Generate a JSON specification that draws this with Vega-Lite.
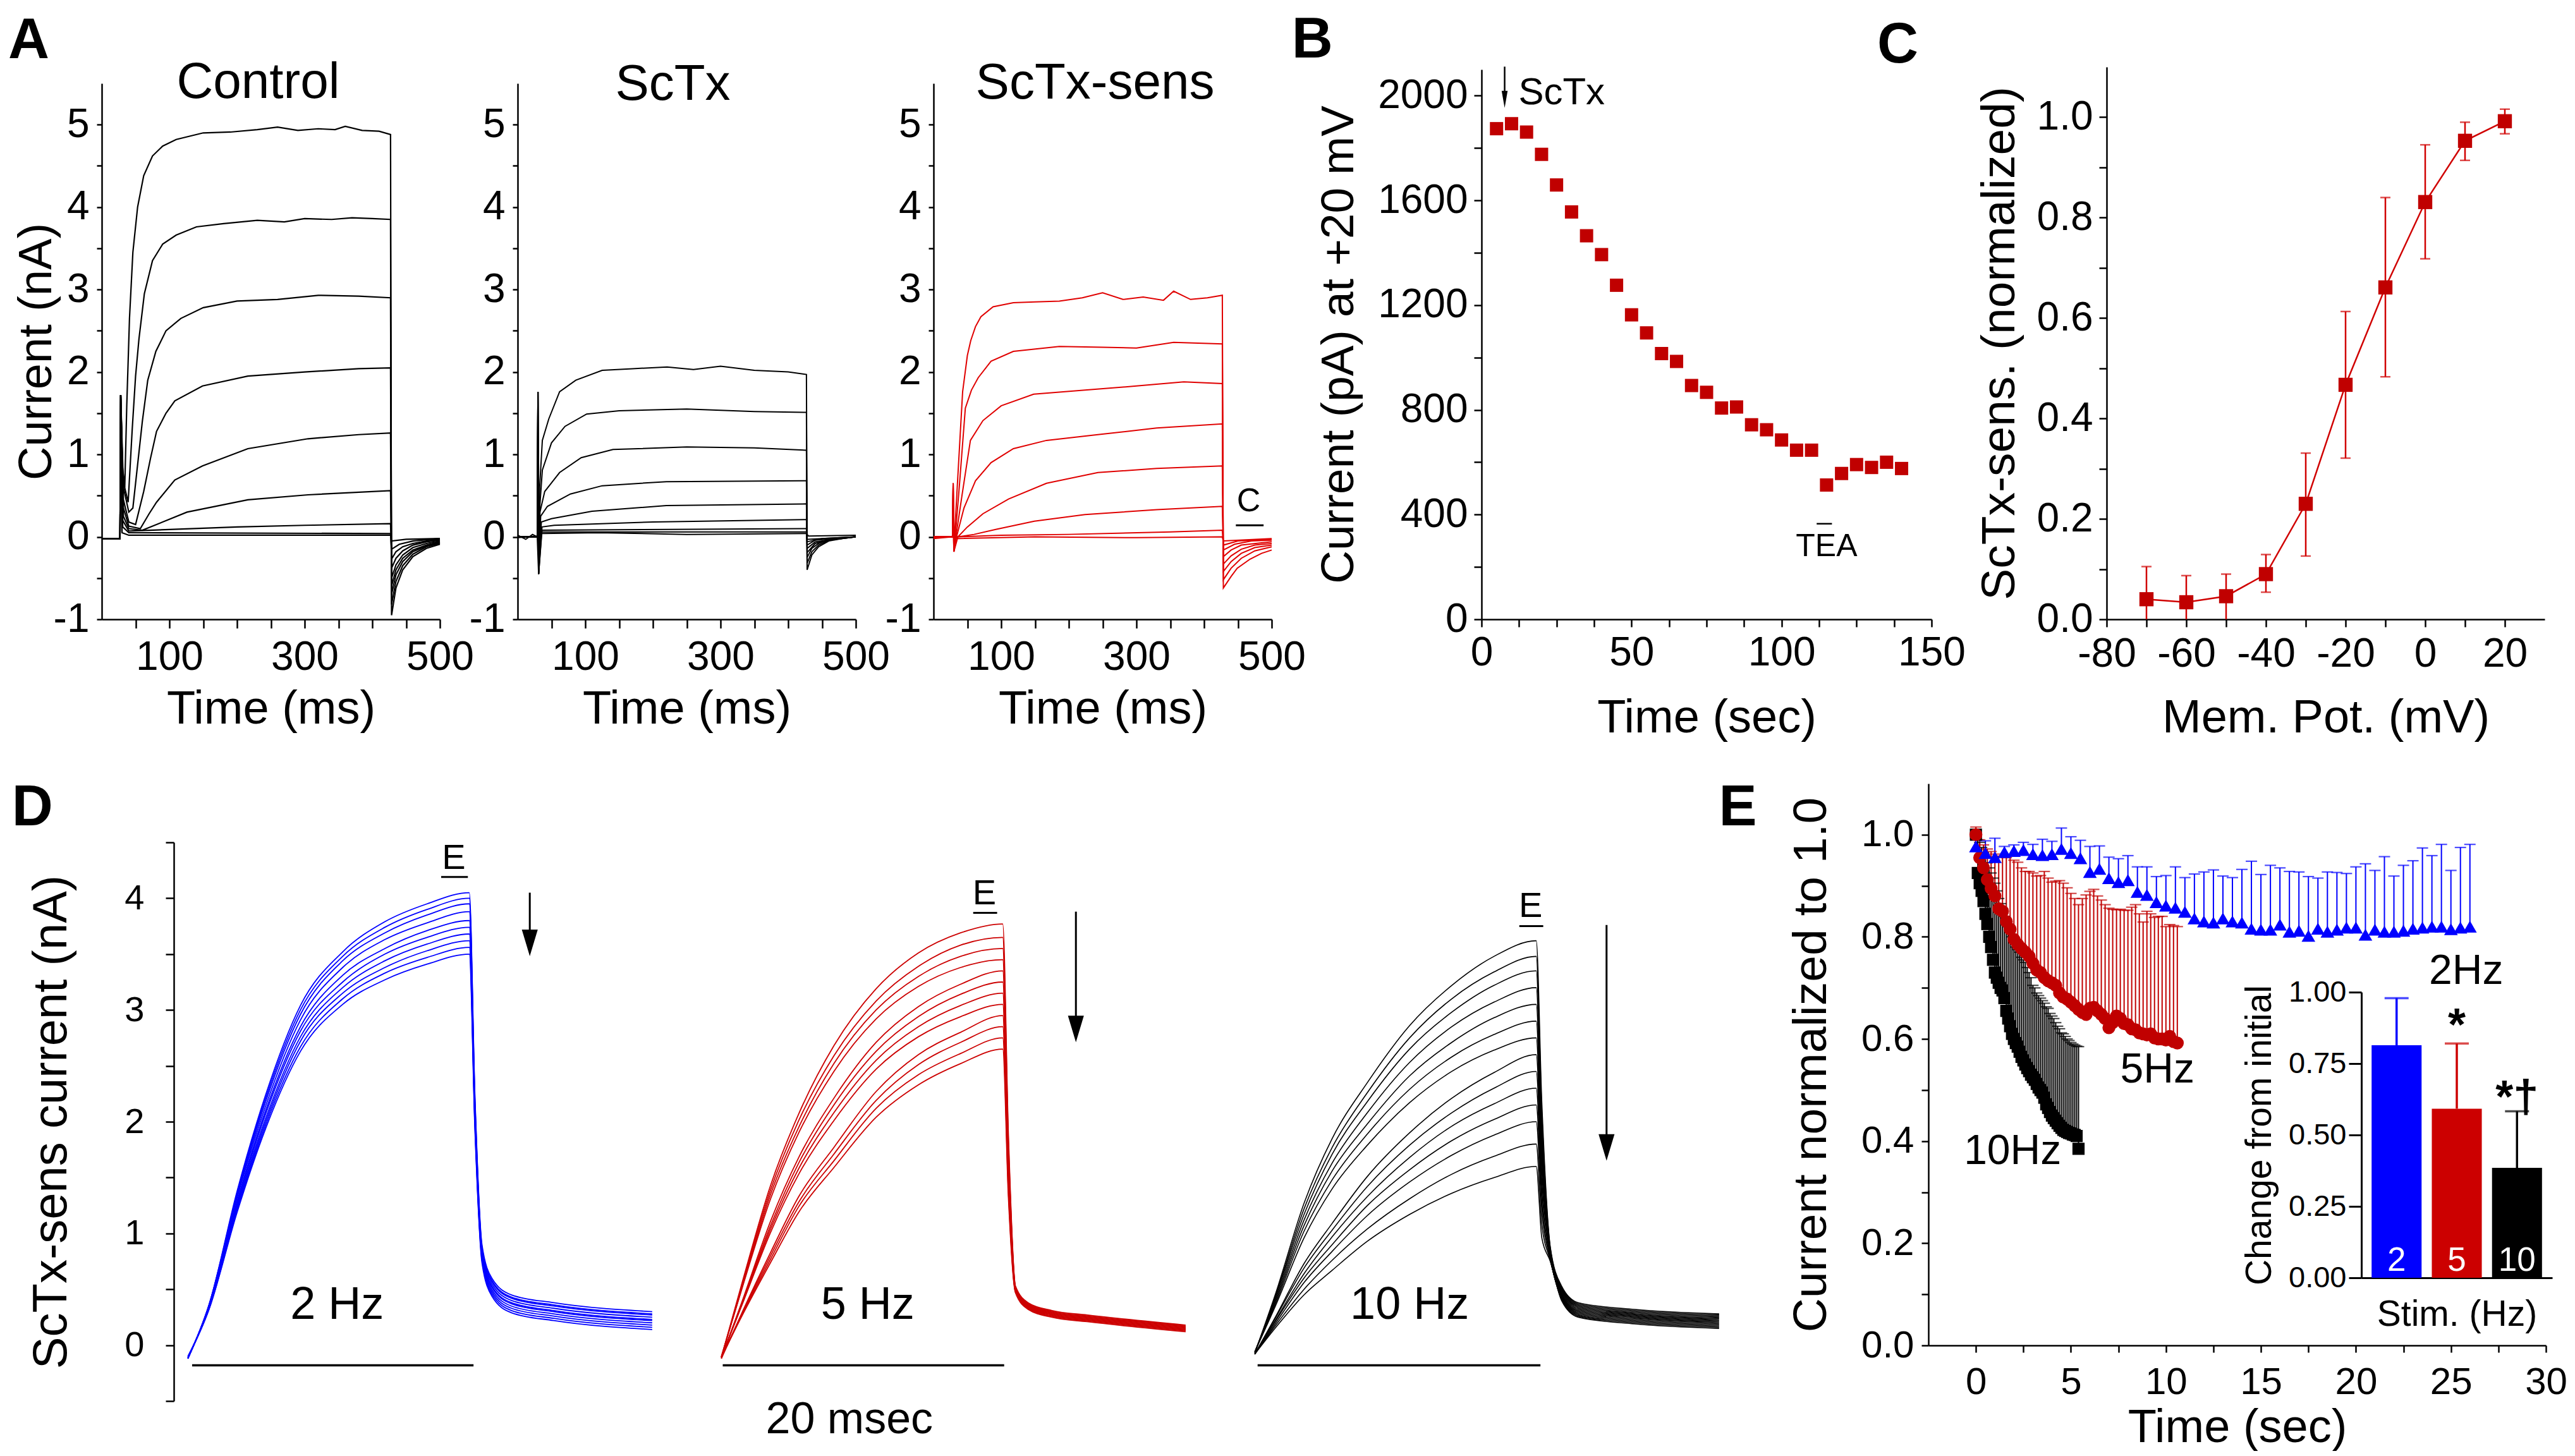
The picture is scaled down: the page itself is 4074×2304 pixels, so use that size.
{
"$schema": "https://vega.github.io/schema/vega-lite/v6.json",
"background": "white",
"padding": {"left": 12, "top": 7, "right": 0, "bottom": 0},
"config": {
  "font": "Liberation Sans",
  "view": {"stroke": null},
  "axis": {"grid": false, "domainColor": "#000", "tickColor": "#000", "labelColor": "#000", "titleColor": "#000", "domainWidth": 2.5, "tickWidth": 2.5, "titleFontWeight": "normal", "labelOverlap": false, "labelFlush": false, "labelFont": "Liberation Sans", "titleFont": "Liberation Sans"},
  "title": {"anchor": "start", "frame": "bounds", "fontSize": 90, "fontWeight": "bold", "baseline": "alphabetic", "color": "#000", "font": "Liberation Sans"},
  "text": {"font": "Liberation Sans", "color": "#000"}
},
"datasets": {
"ac": [
{"k":1,"t":0,"i":-0.02},{"k":1,"t":27,"i":-0.02},{"k":1,"t":28,"i":1.72},{"k":1,"t":30,"i":0.9},{"k":1,"t":34,"i":0.6},{"k":1,"t":37,"i":1.6},{"k":1,"t":41,"i":2.65},{"k":1,"t":46,"i":3.45},{"k":1,"t":53,"i":4.0},{"k":1,"t":62,"i":4.38},{"k":1,"t":75,"i":4.62},{"k":1,"t":90,"i":4.74},{"k":1,"t":110,"i":4.82},{"k":1,"t":150,"i":4.9},{"k":1,"t":190,"i":4.91},{"k":1,"t":230,"i":4.94},{"k":1,"t":260,"i":4.97},{"k":1,"t":290,"i":4.93},{"k":1,"t":320,"i":4.95},{"k":1,"t":345,"i":4.94},{"k":1,"t":360,"i":4.98},{"k":1,"t":385,"i":4.93},{"k":1,"t":410,"i":4.92},{"k":1,"t":427,"i":4.88},{"k":1,"t":428.5,"i":-0.95},{"k":1,"t":435,"i":-0.62},{"k":1,"t":445,"i":-0.4},{"k":1,"t":460,"i":-0.24},{"k":1,"t":480,"i":-0.14},{"k":1,"t":500,"i":-0.09},
{"k":2,"t":0,"i":-0.02},{"k":2,"t":27,"i":-0.02},{"k":2,"t":28,"i":1.72},{"k":2,"t":31,"i":0.7},{"k":2,"t":39,"i":0.42},{"k":2,"t":45,"i":1.3},{"k":2,"t":50,"i":1.95},{"k":2,"t":55,"i":2.4},{"k":2,"t":63,"i":2.95},{"k":2,"t":75,"i":3.35},{"k":2,"t":90,"i":3.55},{"k":2,"t":110,"i":3.66},{"k":2,"t":140,"i":3.76},{"k":2,"t":180,"i":3.8},{"k":2,"t":230,"i":3.84},{"k":2,"t":270,"i":3.82},{"k":2,"t":300,"i":3.86},{"k":2,"t":340,"i":3.85},{"k":2,"t":370,"i":3.87},{"k":2,"t":400,"i":3.86},{"k":2,"t":427,"i":3.85},{"k":2,"t":428.5,"i":-0.82},{"k":2,"t":435,"i":-0.54},{"k":2,"t":445,"i":-0.35},{"k":2,"t":460,"i":-0.21},{"k":2,"t":480,"i":-0.12},{"k":2,"t":500,"i":-0.08},
{"k":3,"t":0,"i":-0.02},{"k":3,"t":27,"i":-0.02},{"k":3,"t":28,"i":1.72},{"k":3,"t":32,"i":0.6},{"k":3,"t":40,"i":0.3},{"k":3,"t":46,"i":0.35},{"k":3,"t":52,"i":0.8},{"k":3,"t":60,"i":1.4},{"k":3,"t":68,"i":1.9},{"k":3,"t":80,"i":2.25},{"k":3,"t":95,"i":2.5},{"k":3,"t":117,"i":2.65},{"k":3,"t":150,"i":2.78},{"k":3,"t":200,"i":2.86},{"k":3,"t":260,"i":2.88},{"k":3,"t":320,"i":2.93},{"k":3,"t":380,"i":2.92},{"k":3,"t":427,"i":2.9},{"k":3,"t":428.5,"i":-0.7},{"k":3,"t":435,"i":-0.46},{"k":3,"t":445,"i":-0.3},{"k":3,"t":460,"i":-0.18},{"k":3,"t":480,"i":-0.11},{"k":3,"t":500,"i":-0.07},
{"k":4,"t":0,"i":-0.02},{"k":4,"t":27,"i":-0.02},{"k":4,"t":28,"i":1.72},{"k":4,"t":32,"i":0.45},{"k":4,"t":40,"i":0.18},{"k":4,"t":50,"i":0.15},{"k":4,"t":62,"i":0.55},{"k":4,"t":72,"i":0.95},{"k":4,"t":81,"i":1.28},{"k":4,"t":95,"i":1.5},{"k":4,"t":108,"i":1.65},{"k":4,"t":149,"i":1.83},{"k":4,"t":216,"i":1.95},{"k":4,"t":300,"i":2.0},{"k":4,"t":380,"i":2.04},{"k":4,"t":427,"i":2.05},{"k":4,"t":428.5,"i":-0.6},{"k":4,"t":435,"i":-0.4},{"k":4,"t":445,"i":-0.26},{"k":4,"t":460,"i":-0.16},{"k":4,"t":480,"i":-0.1},{"k":4,"t":500,"i":-0.06},
{"k":5,"t":0,"i":-0.02},{"k":5,"t":27,"i":-0.02},{"k":5,"t":28,"i":1.72},{"k":5,"t":32,"i":0.35},{"k":5,"t":40,"i":0.13},{"k":5,"t":57,"i":0.1},{"k":5,"t":70,"i":0.28},{"k":5,"t":81,"i":0.42},{"k":5,"t":108,"i":0.69},{"k":5,"t":149,"i":0.86},{"k":5,"t":216,"i":1.07},{"k":5,"t":305,"i":1.19},{"k":5,"t":380,"i":1.24},{"k":5,"t":427,"i":1.26},{"k":5,"t":428.5,"i":-0.5},{"k":5,"t":435,"i":-0.34},{"k":5,"t":445,"i":-0.22},{"k":5,"t":460,"i":-0.13},{"k":5,"t":480,"i":-0.08},{"k":5,"t":500,"i":-0.05},
{"k":6,"t":0,"i":-0.02},{"k":6,"t":27,"i":-0.02},{"k":6,"t":28,"i":1.72},{"k":6,"t":32,"i":0.25},{"k":6,"t":40,"i":0.1},{"k":6,"t":60,"i":0.08},{"k":6,"t":126,"i":0.3},{"k":6,"t":216,"i":0.45},{"k":6,"t":305,"i":0.51},{"k":6,"t":427,"i":0.56},{"k":6,"t":428.5,"i":-0.38},{"k":6,"t":435,"i":-0.26},{"k":6,"t":445,"i":-0.17},{"k":6,"t":460,"i":-0.1},{"k":6,"t":480,"i":-0.06},{"k":6,"t":500,"i":-0.04},
{"k":7,"t":0,"i":-0.02},{"k":7,"t":27,"i":-0.02},{"k":7,"t":28,"i":1.72},{"k":7,"t":31,"i":0.2},{"k":7,"t":40,"i":0.07},{"k":7,"t":100,"i":0.09},{"k":7,"t":200,"i":0.12},{"k":7,"t":300,"i":0.14},{"k":7,"t":427,"i":0.16},{"k":7,"t":428.5,"i":-0.27},{"k":7,"t":435,"i":-0.18},{"k":7,"t":445,"i":-0.12},{"k":7,"t":460,"i":-0.08},{"k":7,"t":480,"i":-0.05},{"k":7,"t":500,"i":-0.03},
{"k":8,"t":0,"i":-0.02},{"k":8,"t":27,"i":-0.02},{"k":8,"t":28,"i":1.72},{"k":8,"t":31,"i":0.12},{"k":8,"t":40,"i":0.05},{"k":8,"t":427,"i":0.04},{"k":8,"t":428.5,"i":-0.15},{"k":8,"t":440,"i":-0.09},{"k":8,"t":460,"i":-0.05},{"k":8,"t":500,"i":-0.02},
{"k":9,"t":0,"i":-0.02},{"k":9,"t":27,"i":-0.02},{"k":9,"t":28,"i":1.72},{"k":9,"t":30,"i":0.05},{"k":9,"t":40,"i":0.02},{"k":9,"t":427,"i":0.02},{"k":9,"t":428.5,"i":-0.05},{"k":9,"t":450,"i":-0.03},{"k":9,"t":500,"i":-0.02}
],
"as": [
{"k":1,"t":0,"i":0},{"k":1,"t":29,"i":0},{"k":1,"t":30,"i":1.76},{"k":1,"t":31,"i":-0.45},{"k":1,"t":32.5,"i":0.6},{"k":1,"t":36.5,"i":1.17},{"k":1,"t":46,"i":1.43},{"k":1,"t":62,"i":1.76},{"k":1,"t":86,"i":1.9},{"k":1,"t":125,"i":2.02},{"k":1,"t":170,"i":2.04},{"k":1,"t":221,"i":2.06},{"k":1,"t":260,"i":2.03},{"k":1,"t":300,"i":2.07},{"k":1,"t":350,"i":2.02},{"k":1,"t":400,"i":2.0},{"k":1,"t":427,"i":1.97},{"k":1,"t":428,"i":-0.4},{"k":1,"t":435,"i":-0.22},{"k":1,"t":445,"i":-0.12},{"k":1,"t":460,"i":-0.05},{"k":1,"t":480,"i":-0.02},{"k":1,"t":500,"i":0},
{"k":2,"t":0,"i":0},{"k":2,"t":29,"i":0},{"k":2,"t":30,"i":1.76},{"k":2,"t":31,"i":-0.45},{"k":2,"t":33,"i":0.4},{"k":2,"t":36.5,"i":0.81},{"k":2,"t":50,"i":1.14},{"k":2,"t":70,"i":1.34},{"k":2,"t":102,"i":1.49},{"k":2,"t":150,"i":1.53},{"k":2,"t":250,"i":1.55},{"k":2,"t":350,"i":1.52},{"k":2,"t":427,"i":1.51},{"k":2,"t":428,"i":-0.32},{"k":2,"t":435,"i":-0.18},{"k":2,"t":445,"i":-0.1},{"k":2,"t":460,"i":-0.04},{"k":2,"t":500,"i":0},
{"k":3,"t":0,"i":0},{"k":3,"t":29,"i":0},{"k":3,"t":30,"i":1.76},{"k":3,"t":31,"i":-0.45},{"k":3,"t":33,"i":0.3},{"k":3,"t":40,"i":0.55},{"k":3,"t":62,"i":0.78},{"k":3,"t":94,"i":0.96},{"k":3,"t":141,"i":1.06},{"k":3,"t":250,"i":1.09},{"k":3,"t":350,"i":1.08},{"k":3,"t":427,"i":1.05},{"k":3,"t":428,"i":-0.25},{"k":3,"t":435,"i":-0.14},{"k":3,"t":445,"i":-0.08},{"k":3,"t":460,"i":-0.03},{"k":3,"t":500,"i":0},
{"k":4,"t":0,"i":0},{"k":4,"t":29,"i":0},{"k":4,"t":30,"i":1.76},{"k":4,"t":31,"i":-0.45},{"k":4,"t":34,"i":0.25},{"k":4,"t":44,"i":0.37},{"k":4,"t":78,"i":0.52},{"k":4,"t":125,"i":0.62},{"k":4,"t":220,"i":0.67},{"k":4,"t":427,"i":0.68},{"k":4,"t":428,"i":-0.19},{"k":4,"t":440,"i":-0.08},{"k":4,"t":460,"i":-0.03},{"k":4,"t":500,"i":0},
{"k":5,"t":0,"i":0},{"k":5,"t":29,"i":0},{"k":5,"t":30,"i":1.76},{"k":5,"t":31,"i":-0.45},{"k":5,"t":35,"i":0.18},{"k":5,"t":50,"i":0.22},{"k":5,"t":110,"i":0.31},{"k":5,"t":220,"i":0.38},{"k":5,"t":427,"i":0.4},{"k":5,"t":428,"i":-0.14},{"k":5,"t":440,"i":-0.06},{"k":5,"t":500,"i":0},
{"k":6,"t":0,"i":0},{"k":6,"t":29,"i":0},{"k":6,"t":30,"i":1.76},{"k":6,"t":31,"i":-0.45},{"k":6,"t":36,"i":0.12},{"k":6,"t":54,"i":0.14},{"k":6,"t":200,"i":0.18},{"k":6,"t":427,"i":0.21},{"k":6,"t":428,"i":-0.1},{"k":6,"t":440,"i":-0.04},{"k":6,"t":500,"i":0},
{"k":7,"t":0,"i":0},{"k":7,"t":29,"i":0},{"k":7,"t":31,"i":-0.45},{"k":7,"t":36,"i":0.08},{"k":7,"t":427,"i":0.1},{"k":7,"t":428,"i":-0.06},{"k":7,"t":450,"i":-0.02},{"k":7,"t":500,"i":0},
{"k":8,"t":0,"i":0.02},{"k":8,"t":12,"i":-0.03},{"k":8,"t":22,"i":0.03},{"k":8,"t":29,"i":0},{"k":8,"t":36,"i":0.06},{"k":8,"t":427,"i":0.06},{"k":8,"t":428,"i":-0.03},{"k":8,"t":500,"i":0},
{"k":9,"t":0,"i":-0.01},{"k":9,"t":29,"i":0.01},{"k":9,"t":36,"i":0.04},{"k":9,"t":120,"i":0.05},{"k":9,"t":250,"i":0.03},{"k":9,"t":427,"i":0.04},{"k":9,"t":430,"i":0.01},{"k":9,"t":500,"i":0.02}
],
"ar": [
{"k":1,"t":0,"i":0},{"k":1,"t":28,"i":0},{"k":1,"t":29,"i":0.65},{"k":1,"t":30,"i":-0.18},{"k":1,"t":31,"i":0},{"k":1,"t":35,"i":0.6},{"k":1,"t":43,"i":1.76},{"k":1,"t":50,"i":2.2},{"k":1,"t":55,"i":2.38},{"k":1,"t":62,"i":2.55},{"k":1,"t":70,"i":2.67},{"k":1,"t":88,"i":2.79},{"k":1,"t":118,"i":2.84},{"k":1,"t":150,"i":2.85},{"k":1,"t":186,"i":2.86},{"k":1,"t":220,"i":2.9},{"k":1,"t":250,"i":2.96},{"k":1,"t":280,"i":2.88},{"k":1,"t":310,"i":2.91},{"k":1,"t":340,"i":2.87},{"k":1,"t":355,"i":2.98},{"k":1,"t":380,"i":2.88},{"k":1,"t":405,"i":2.9},{"k":1,"t":427,"i":2.93},{"k":1,"t":428.5,"i":-0.62},{"k":1,"t":440,"i":-0.48},{"k":1,"t":449,"i":-0.38},{"k":1,"t":468,"i":-0.27},{"k":1,"t":485,"i":-0.2},{"k":1,"t":500,"i":-0.16},
{"k":2,"t":0,"i":0},{"k":2,"t":28,"i":0},{"k":2,"t":29,"i":0.65},{"k":2,"t":30,"i":-0.18},{"k":2,"t":32,"i":0},{"k":2,"t":38,"i":0.6},{"k":2,"t":47,"i":1.56},{"k":2,"t":56,"i":1.78},{"k":2,"t":66,"i":1.93},{"k":2,"t":85,"i":2.13},{"k":2,"t":118,"i":2.25},{"k":2,"t":186,"i":2.31},{"k":2,"t":250,"i":2.3},{"k":2,"t":300,"i":2.29},{"k":2,"t":355,"i":2.36},{"k":2,"t":427,"i":2.34},{"k":2,"t":428.5,"i":-0.52},{"k":2,"t":440,"i":-0.38},{"k":2,"t":455,"i":-0.26},{"k":2,"t":475,"i":-0.17},{"k":2,"t":500,"i":-0.12},
{"k":3,"t":0,"i":0},{"k":3,"t":28,"i":0},{"k":3,"t":29,"i":0.65},{"k":3,"t":30,"i":-0.18},{"k":3,"t":33,"i":0},{"k":3,"t":42,"i":0.5},{"k":3,"t":54.5,"i":1.17},{"k":3,"t":73,"i":1.41},{"k":3,"t":100,"i":1.59},{"k":3,"t":148,"i":1.73},{"k":3,"t":224,"i":1.78},{"k":3,"t":300,"i":1.83},{"k":3,"t":370,"i":1.88},{"k":3,"t":427,"i":1.86},{"k":3,"t":428.5,"i":-0.42},{"k":3,"t":440,"i":-0.3},{"k":3,"t":455,"i":-0.2},{"k":3,"t":475,"i":-0.13},{"k":3,"t":500,"i":-0.1},
{"k":4,"t":0,"i":0},{"k":4,"t":28,"i":0},{"k":4,"t":29,"i":0.65},{"k":4,"t":30,"i":-0.18},{"k":4,"t":34,"i":0},{"k":4,"t":45,"i":0.35},{"k":4,"t":62,"i":0.68},{"k":4,"t":85,"i":0.9},{"k":4,"t":118,"i":1.07},{"k":4,"t":167,"i":1.17},{"k":4,"t":243,"i":1.24},{"k":4,"t":330,"i":1.32},{"k":4,"t":427,"i":1.37},{"k":4,"t":428.5,"i":-0.33},{"k":4,"t":440,"i":-0.23},{"k":4,"t":455,"i":-0.15},{"k":4,"t":475,"i":-0.1},{"k":4,"t":500,"i":-0.08},
{"k":5,"t":0,"i":0},{"k":5,"t":28,"i":0},{"k":5,"t":29,"i":0.65},{"k":5,"t":30,"i":-0.18},{"k":5,"t":36,"i":0},{"k":5,"t":50,"i":0.12},{"k":5,"t":73,"i":0.28},{"k":5,"t":111,"i":0.46},{"k":5,"t":167,"i":0.65},{"k":5,"t":243,"i":0.78},{"k":5,"t":330,"i":0.83},{"k":5,"t":427,"i":0.86},{"k":5,"t":428.5,"i":-0.24},{"k":5,"t":440,"i":-0.16},{"k":5,"t":455,"i":-0.1},{"k":5,"t":500,"i":-0.06},
{"k":6,"t":0,"i":0},{"k":6,"t":28,"i":0},{"k":6,"t":36,"i":0},{"k":6,"t":60,"i":0.03},{"k":6,"t":92,"i":0.09},{"k":6,"t":149,"i":0.19},{"k":6,"t":224,"i":0.27},{"k":6,"t":330,"i":0.33},{"k":6,"t":427,"i":0.37},{"k":6,"t":428.5,"i":-0.16},{"k":6,"t":445,"i":-0.09},{"k":6,"t":470,"i":-0.05},{"k":6,"t":500,"i":-0.04},
{"k":7,"t":0,"i":0},{"k":7,"t":28,"i":0},{"k":7,"t":36,"i":0},{"k":7,"t":100,"i":0.02},{"k":7,"t":200,"i":0.03},{"k":7,"t":350,"i":0.06},{"k":7,"t":427,"i":0.08},{"k":7,"t":428.5,"i":-0.1},{"k":7,"t":450,"i":-0.05},{"k":7,"t":500,"i":-0.03},
{"k":8,"t":0,"i":-0.02},{"k":8,"t":28,"i":0},{"k":8,"t":36,"i":-0.02},{"k":8,"t":150,"i":0},{"k":8,"t":300,"i":-0.01},{"k":8,"t":427,"i":0},{"k":8,"t":428.5,"i":-0.05},{"k":8,"t":500,"i":-0.02}
],
"bd": [
{"t":5,"i":1874},{"t":10,"i":1893},{"t":15,"i":1861},{"t":20,"i":1776},{"t":25,"i":1659},{"t":30,"i":1556},{"t":35,"i":1465},{"t":40,"i":1393},{"t":45,"i":1276},{"t":50,"i":1163},{"t":55,"i":1094},{"t":60,"i":1015},{"t":65,"i":985},{"t":70,"i":893},{"t":75,"i":867},{"t":80,"i":807},{"t":85,"i":811},{"t":90,"i":743},{"t":95,"i":724},{"t":100,"i":685},{"t":105,"i":646},{"t":110,"i":646},{"t":115,"i":513},{"t":120,"i":557},{"t":125,"i":591},{"t":130,"i":580},{"t":135,"i":600},{"t":140,"i":576}
],
"cd": [
{"v":-70,"m":0.04,"lo":0,"hi":0.105},{"v":-60,"m":0.034,"lo":0,"hi":0.087},{"v":-50,"m":0.046,"lo":0,"hi":0.09},{"v":-40,"m":0.09,"lo":0.054,"hi":0.129},{"v":-30,"m":0.23,"lo":0.126,"hi":0.331},{"v":-20,"m":0.467,"lo":0.321,"hi":0.613},{"v":-10,"m":0.661,"lo":0.483,"hi":0.84},{"v":0,"m":0.831,"lo":0.718,"hi":0.945},{"v":10,"m":0.953,"lo":0.914,"hi":0.99},{"v":20,"m":0.992,"lo":0.967,"hi":1.016}
],
"d2": [
{"k":1,"t":0,"i":-0.12},{"k":1,"t":1.5,"i":0.36},{"k":1,"t":3.5,"i":1.38},{"k":1,"t":5.5,"i":2.23},{"k":1,"t":8,"i":3.04},{"k":1,"t":11,"i":3.52},{"k":1,"t":14,"i":3.79},{"k":1,"t":17,"i":3.95},{"k":1,"t":20,"i":4.05},{"k":1,"t":20.4,"i":2.23},{"k":1,"t":20.9,"i":0.9},{"k":1,"t":21.6,"i":0.6},{"k":1,"t":23,"i":0.45},{"k":1,"t":26,"i":0.38},{"k":1,"t":33,"i":0.3},
{"k":2,"t":0,"i":-0.12},{"k":2,"t":1.5,"i":0.36},{"k":2,"t":3.5,"i":1.36},{"k":2,"t":5.5,"i":2.2},{"k":2,"t":8,"i":3.0},{"k":2,"t":11,"i":3.48},{"k":2,"t":14,"i":3.74},{"k":2,"t":17,"i":3.9},{"k":2,"t":20,"i":4.0},{"k":2,"t":20.4,"i":2.2},{"k":2,"t":20.9,"i":0.88},{"k":2,"t":21.6,"i":0.58},{"k":2,"t":23,"i":0.43},{"k":2,"t":26,"i":0.36},{"k":2,"t":33,"i":0.28},
{"k":3,"t":0,"i":-0.12},{"k":3,"t":1.5,"i":0.36},{"k":3,"t":3.5,"i":1.34},{"k":3,"t":5.5,"i":2.17},{"k":3,"t":8,"i":2.96},{"k":3,"t":11,"i":3.44},{"k":3,"t":14,"i":3.69},{"k":3,"t":17,"i":3.85},{"k":3,"t":20,"i":3.95},{"k":3,"t":20.4,"i":2.17},{"k":3,"t":20.9,"i":0.87},{"k":3,"t":21.6,"i":0.57},{"k":3,"t":23,"i":0.42},{"k":3,"t":26,"i":0.35},{"k":3,"t":33,"i":0.27},
{"k":4,"t":0,"i":-0.12},{"k":4,"t":1.5,"i":0.35},{"k":4,"t":3.5,"i":1.32},{"k":4,"t":5.5,"i":2.13},{"k":4,"t":8,"i":2.91},{"k":4,"t":11,"i":3.38},{"k":4,"t":14,"i":3.63},{"k":4,"t":17,"i":3.78},{"k":4,"t":20,"i":3.88},{"k":4,"t":20.4,"i":2.13},{"k":4,"t":20.9,"i":0.85},{"k":4,"t":21.6,"i":0.55},{"k":4,"t":23,"i":0.4},{"k":4,"t":26,"i":0.33},{"k":4,"t":33,"i":0.25},
{"k":5,"t":0,"i":-0.11},{"k":5,"t":1.5,"i":0.34},{"k":5,"t":3.5,"i":1.29},{"k":5,"t":5.5,"i":2.09},{"k":5,"t":8,"i":2.85},{"k":5,"t":11,"i":3.31},{"k":5,"t":14,"i":3.55},{"k":5,"t":17,"i":3.71},{"k":5,"t":20,"i":3.8},{"k":5,"t":20.4,"i":2.09},{"k":5,"t":20.9,"i":0.83},{"k":5,"t":21.6,"i":0.53},{"k":5,"t":23,"i":0.38},{"k":5,"t":26,"i":0.31},{"k":5,"t":33,"i":0.23},
{"k":6,"t":0,"i":-0.11},{"k":6,"t":1.5,"i":0.34},{"k":6,"t":3.5,"i":1.27},{"k":6,"t":5.5,"i":2.06},{"k":6,"t":8,"i":2.81},{"k":6,"t":11,"i":3.25},{"k":6,"t":14,"i":3.5},{"k":6,"t":17,"i":3.65},{"k":6,"t":20,"i":3.74},{"k":6,"t":20.4,"i":2.06},{"k":6,"t":20.9,"i":0.82},{"k":6,"t":21.6,"i":0.52},{"k":6,"t":23,"i":0.37},{"k":6,"t":26,"i":0.3},{"k":6,"t":33,"i":0.22},
{"k":7,"t":0,"i":-0.11},{"k":7,"t":1.5,"i":0.33},{"k":7,"t":3.5,"i":1.25},{"k":7,"t":5.5,"i":2.02},{"k":7,"t":8,"i":2.76},{"k":7,"t":11,"i":3.2},{"k":7,"t":14,"i":3.44},{"k":7,"t":17,"i":3.59},{"k":7,"t":20,"i":3.68},{"k":7,"t":20.4,"i":2.02},{"k":7,"t":20.9,"i":0.8},{"k":7,"t":21.6,"i":0.5},{"k":7,"t":23,"i":0.35},{"k":7,"t":26,"i":0.28},{"k":7,"t":33,"i":0.2},
{"k":8,"t":0,"i":-0.11},{"k":8,"t":1.5,"i":0.33},{"k":8,"t":3.5,"i":1.23},{"k":8,"t":5.5,"i":1.99},{"k":8,"t":8,"i":2.72},{"k":8,"t":11,"i":3.15},{"k":8,"t":14,"i":3.38},{"k":8,"t":17,"i":3.53},{"k":8,"t":20,"i":3.62},{"k":8,"t":20.4,"i":1.99},{"k":8,"t":20.9,"i":0.78},{"k":8,"t":21.6,"i":0.48},{"k":8,"t":23,"i":0.33},{"k":8,"t":26,"i":0.26},{"k":8,"t":33,"i":0.18},
{"k":9,"t":0,"i":-0.11},{"k":9,"t":1.5,"i":0.32},{"k":9,"t":3.5,"i":1.21},{"k":9,"t":5.5,"i":1.96},{"k":9,"t":8,"i":2.67},{"k":9,"t":11,"i":3.1},{"k":9,"t":14,"i":3.33},{"k":9,"t":17,"i":3.47},{"k":9,"t":20,"i":3.56},{"k":9,"t":20.4,"i":1.96},{"k":9,"t":20.9,"i":0.76},{"k":9,"t":21.6,"i":0.46},{"k":9,"t":23,"i":0.31},{"k":9,"t":26,"i":0.24},{"k":9,"t":33,"i":0.16},
{"k":10,"t":0,"i":-0.1},{"k":10,"t":1.5,"i":0.32},{"k":10,"t":3.5,"i":1.19},{"k":10,"t":5.5,"i":1.93},{"k":10,"t":8,"i":2.63},{"k":10,"t":11,"i":3.05},{"k":10,"t":14,"i":3.27},{"k":10,"t":17,"i":3.41},{"k":10,"t":20,"i":3.5},{"k":10,"t":20.4,"i":1.93},{"k":10,"t":20.9,"i":0.74},{"k":10,"t":21.6,"i":0.44},{"k":10,"t":23,"i":0.29},{"k":10,"t":26,"i":0.22},{"k":10,"t":33,"i":0.14}
],
"d5": [
{"k":1,"t":0,"i":-0.11},{"k":1,"t":1.5,"i":0.57},{"k":1,"t":3.5,"i":1.43},{"k":1,"t":5.5,"i":2.07},{"k":1,"t":8,"i":2.68},{"k":1,"t":11,"i":3.19},{"k":1,"t":14,"i":3.51},{"k":1,"t":17,"i":3.69},{"k":1,"t":20,"i":3.77},{"k":1,"t":20.4,"i":1.89},{"k":1,"t":20.9,"i":0.53},{"k":1,"t":21.8,"i":0.38},{"k":1,"t":23.5,"i":0.31},{"k":1,"t":26,"i":0.27},{"k":1,"t":33,"i":0.18},
{"k":2,"t":0,"i":-0.11},{"k":2,"t":1.5,"i":0.55},{"k":2,"t":3.5,"i":1.39},{"k":2,"t":5.5,"i":2.01},{"k":2,"t":8,"i":2.59},{"k":2,"t":11,"i":3.08},{"k":2,"t":14,"i":3.39},{"k":2,"t":17,"i":3.58},{"k":2,"t":20,"i":3.65},{"k":2,"t":20.4,"i":1.83},{"k":2,"t":20.9,"i":0.52},{"k":2,"t":21.8,"i":0.37},{"k":2,"t":23.5,"i":0.3},{"k":2,"t":26,"i":0.26},{"k":2,"t":33,"i":0.17},
{"k":3,"t":0,"i":-0.11},{"k":3,"t":1.5,"i":0.53},{"k":3,"t":3.5,"i":1.35},{"k":3,"t":5.5,"i":1.95},{"k":3,"t":8,"i":2.52},{"k":3,"t":11,"i":3.0},{"k":3,"t":14,"i":3.3},{"k":3,"t":17,"i":3.48},{"k":3,"t":20,"i":3.55},{"k":3,"t":20.4,"i":1.78},{"k":3,"t":20.9,"i":0.52},{"k":3,"t":21.8,"i":0.37},{"k":3,"t":23.5,"i":0.3},{"k":3,"t":26,"i":0.26},{"k":3,"t":33,"i":0.17},
{"k":4,"t":0,"i":-0.1},{"k":4,"t":1.5,"i":0.52},{"k":4,"t":3.5,"i":1.31},{"k":4,"t":5.5,"i":1.9},{"k":4,"t":8,"i":2.45},{"k":4,"t":11,"i":2.92},{"k":4,"t":14,"i":3.21},{"k":4,"t":17,"i":3.38},{"k":4,"t":20,"i":3.45},{"k":4,"t":20.4,"i":1.73},{"k":4,"t":20.9,"i":0.51},{"k":4,"t":21.8,"i":0.36},{"k":4,"t":23.5,"i":0.29},{"k":4,"t":26,"i":0.25},{"k":4,"t":33,"i":0.16},
{"k":5,"t":0,"i":-0.12},{"k":5,"t":1.5,"i":0.4},{"k":5,"t":3.5,"i":1.11},{"k":5,"t":5.5,"i":1.68},{"k":5,"t":8,"i":2.21},{"k":5,"t":11,"i":2.71},{"k":5,"t":14,"i":3.03},{"k":5,"t":17,"i":3.23},{"k":5,"t":20,"i":3.35},{"k":5,"t":20.4,"i":1.68},{"k":5,"t":20.9,"i":0.51},{"k":5,"t":21.8,"i":0.36},{"k":5,"t":23.5,"i":0.29},{"k":5,"t":26,"i":0.25},{"k":5,"t":33,"i":0.16},
{"k":6,"t":0,"i":-0.11},{"k":6,"t":1.5,"i":0.39},{"k":6,"t":3.5,"i":1.07},{"k":6,"t":5.5,"i":1.63},{"k":6,"t":8,"i":2.15},{"k":6,"t":11,"i":2.63},{"k":6,"t":14,"i":2.94},{"k":6,"t":17,"i":3.14},{"k":6,"t":20,"i":3.25},{"k":6,"t":20.4,"i":1.63},{"k":6,"t":20.9,"i":0.5},{"k":6,"t":21.8,"i":0.35},{"k":6,"t":23.5,"i":0.28},{"k":6,"t":26,"i":0.24},{"k":6,"t":33,"i":0.15},
{"k":7,"t":0,"i":-0.11},{"k":7,"t":1.5,"i":0.38},{"k":7,"t":3.5,"i":1.04},{"k":7,"t":5.5,"i":1.58},{"k":7,"t":8,"i":2.08},{"k":7,"t":11,"i":2.55},{"k":7,"t":14,"i":2.85},{"k":7,"t":17,"i":3.04},{"k":7,"t":20,"i":3.15},{"k":7,"t":20.4,"i":1.58},{"k":7,"t":20.9,"i":0.5},{"k":7,"t":21.8,"i":0.35},{"k":7,"t":23.5,"i":0.28},{"k":7,"t":26,"i":0.24},{"k":7,"t":33,"i":0.15},
{"k":8,"t":0,"i":-0.11},{"k":8,"t":1.5,"i":0.37},{"k":8,"t":3.5,"i":1.01},{"k":8,"t":5.5,"i":1.53},{"k":8,"t":8,"i":2.01},{"k":8,"t":11,"i":2.47},{"k":8,"t":14,"i":2.76},{"k":8,"t":17,"i":2.94},{"k":8,"t":20,"i":3.05},{"k":8,"t":20.4,"i":1.53},{"k":8,"t":20.9,"i":0.49},{"k":8,"t":21.8,"i":0.34},{"k":8,"t":23.5,"i":0.27},{"k":8,"t":26,"i":0.23},{"k":8,"t":33,"i":0.14},
{"k":9,"t":0,"i":-0.12},{"k":9,"t":1.5,"i":0.3},{"k":9,"t":3.5,"i":0.83},{"k":9,"t":5.5,"i":1.33},{"k":9,"t":8,"i":1.77},{"k":9,"t":11,"i":2.27},{"k":9,"t":14,"i":2.6},{"k":9,"t":17,"i":2.8},{"k":9,"t":20,"i":2.95},{"k":9,"t":20.4,"i":1.48},{"k":9,"t":20.9,"i":0.49},{"k":9,"t":21.8,"i":0.34},{"k":9,"t":23.5,"i":0.27},{"k":9,"t":26,"i":0.23},{"k":9,"t":33,"i":0.14},
{"k":10,"t":0,"i":-0.11},{"k":10,"t":1.5,"i":0.29},{"k":10,"t":3.5,"i":0.8},{"k":10,"t":5.5,"i":1.28},{"k":10,"t":8,"i":1.71},{"k":10,"t":11,"i":2.19},{"k":10,"t":14,"i":2.51},{"k":10,"t":17,"i":2.71},{"k":10,"t":20,"i":2.85},{"k":10,"t":20.4,"i":1.43},{"k":10,"t":20.9,"i":0.48},{"k":10,"t":21.8,"i":0.33},{"k":10,"t":23.5,"i":0.26},{"k":10,"t":26,"i":0.22},{"k":10,"t":33,"i":0.13},
{"k":11,"t":0,"i":-0.11},{"k":11,"t":1.5,"i":0.28},{"k":11,"t":3.5,"i":0.77},{"k":11,"t":5.5,"i":1.24},{"k":11,"t":8,"i":1.65},{"k":11,"t":11,"i":2.12},{"k":11,"t":14,"i":2.42},{"k":11,"t":17,"i":2.61},{"k":11,"t":20,"i":2.75},{"k":11,"t":20.4,"i":1.38},{"k":11,"t":20.9,"i":0.48},{"k":11,"t":21.8,"i":0.33},{"k":11,"t":23.5,"i":0.26},{"k":11,"t":26,"i":0.22},{"k":11,"t":33,"i":0.13},
{"k":12,"t":0,"i":-0.11},{"k":12,"t":1.5,"i":0.27},{"k":12,"t":3.5,"i":0.74},{"k":12,"t":5.5,"i":1.19},{"k":12,"t":8,"i":1.59},{"k":12,"t":11,"i":2.04},{"k":12,"t":14,"i":2.33},{"k":12,"t":17,"i":2.52},{"k":12,"t":20,"i":2.65},{"k":12,"t":20.4,"i":1.33},{"k":12,"t":20.9,"i":0.47},{"k":12,"t":21.8,"i":0.32},{"k":12,"t":23.5,"i":0.25},{"k":12,"t":26,"i":0.21},{"k":12,"t":33,"i":0.12}
],
"d10": [
{"k":1,"t":0,"i":-0.07},{"k":1,"t":1.5,"i":0.47},{"k":1,"t":3.5,"i":1.27},{"k":1,"t":5.5,"i":1.85},{"k":1,"t":8,"i":2.35},{"k":1,"t":11,"i":2.86},{"k":1,"t":14,"i":3.22},{"k":1,"t":17,"i":3.48},{"k":1,"t":20,"i":3.62},{"k":1,"t":20.4,"i":2.17},{"k":1,"t":21,"i":0.88},{"k":1,"t":21.8,"i":0.53},{"k":1,"t":23,"i":0.38},{"k":1,"t":27,"i":0.32},{"k":1,"t":33,"i":0.28},
{"k":2,"t":0,"i":-0.07},{"k":2,"t":1.5,"i":0.45},{"k":2,"t":3.5,"i":1.22},{"k":2,"t":5.5,"i":1.77},{"k":2,"t":8,"i":2.26},{"k":2,"t":11,"i":2.75},{"k":2,"t":14,"i":3.1},{"k":2,"t":17,"i":3.34},{"k":2,"t":20,"i":3.48},{"k":2,"t":20.4,"i":2.09},{"k":2,"t":21,"i":0.87},{"k":2,"t":21.8,"i":0.52},{"k":2,"t":23,"i":0.37},{"k":2,"t":27,"i":0.31},{"k":2,"t":33,"i":0.27},
{"k":3,"t":0,"i":-0.07},{"k":3,"t":1.5,"i":0.44},{"k":3,"t":3.5,"i":1.17},{"k":3,"t":5.5,"i":1.71},{"k":3,"t":8,"i":2.18},{"k":3,"t":11,"i":2.65},{"k":3,"t":14,"i":2.98},{"k":3,"t":17,"i":3.22},{"k":3,"t":20,"i":3.35},{"k":3,"t":20.4,"i":2.01},{"k":3,"t":21,"i":0.86},{"k":3,"t":21.8,"i":0.51},{"k":3,"t":23,"i":0.36},{"k":3,"t":27,"i":0.3},{"k":3,"t":33,"i":0.26},
{"k":4,"t":0,"i":-0.06},{"k":4,"t":1.5,"i":0.42},{"k":4,"t":3.5,"i":1.12},{"k":4,"t":5.5,"i":1.63},{"k":4,"t":8,"i":2.08},{"k":4,"t":11,"i":2.53},{"k":4,"t":14,"i":2.85},{"k":4,"t":17,"i":3.07},{"k":4,"t":20,"i":3.2},{"k":4,"t":20.4,"i":1.92},{"k":4,"t":21,"i":0.85},{"k":4,"t":21.8,"i":0.5},{"k":4,"t":23,"i":0.35},{"k":4,"t":27,"i":0.29},{"k":4,"t":33,"i":0.25},
{"k":5,"t":0,"i":-0.06},{"k":5,"t":1.5,"i":0.4},{"k":5,"t":3.5,"i":1.07},{"k":5,"t":5.5,"i":1.56},{"k":5,"t":8,"i":1.98},{"k":5,"t":11,"i":2.41},{"k":5,"t":14,"i":2.71},{"k":5,"t":17,"i":2.93},{"k":5,"t":20,"i":3.05},{"k":5,"t":20.4,"i":1.83},{"k":5,"t":21,"i":0.84},{"k":5,"t":21.8,"i":0.49},{"k":5,"t":23,"i":0.34},{"k":5,"t":27,"i":0.28},{"k":5,"t":33,"i":0.24},
{"k":6,"t":0,"i":-0.06},{"k":6,"t":1.5,"i":0.38},{"k":6,"t":3.5,"i":1.02},{"k":6,"t":5.5,"i":1.48},{"k":6,"t":8,"i":1.89},{"k":6,"t":11,"i":2.29},{"k":6,"t":14,"i":2.58},{"k":6,"t":17,"i":2.78},{"k":6,"t":20,"i":2.9},{"k":6,"t":20.4,"i":1.74},{"k":6,"t":21,"i":0.83},{"k":6,"t":21.8,"i":0.48},{"k":6,"t":23,"i":0.33},{"k":6,"t":27,"i":0.27},{"k":6,"t":33,"i":0.23},
{"k":7,"t":0,"i":-0.06},{"k":7,"t":1.5,"i":0.36},{"k":7,"t":3.5,"i":0.96},{"k":7,"t":5.5,"i":1.4},{"k":7,"t":8,"i":1.79},{"k":7,"t":11,"i":2.17},{"k":7,"t":14,"i":2.45},{"k":7,"t":17,"i":2.64},{"k":7,"t":20,"i":2.75},{"k":7,"t":20.4,"i":1.65},{"k":7,"t":21,"i":0.82},{"k":7,"t":21.8,"i":0.47},{"k":7,"t":23,"i":0.32},{"k":7,"t":27,"i":0.26},{"k":7,"t":33,"i":0.22},
{"k":8,"t":0,"i":-0.08},{"k":8,"t":1.5,"i":0.26},{"k":8,"t":3.5,"i":0.73},{"k":8,"t":5.5,"i":1.09},{"k":8,"t":8,"i":1.51},{"k":8,"t":11,"i":1.9},{"k":8,"t":14,"i":2.21},{"k":8,"t":17,"i":2.44},{"k":8,"t":20,"i":2.6},{"k":8,"t":20.4,"i":1.56},{"k":8,"t":21,"i":0.81},{"k":8,"t":21.8,"i":0.46},{"k":8,"t":23,"i":0.31},{"k":8,"t":27,"i":0.25},{"k":8,"t":33,"i":0.21},
{"k":9,"t":0,"i":-0.08},{"k":9,"t":1.5,"i":0.25},{"k":9,"t":3.5,"i":0.69},{"k":9,"t":5.5,"i":1.03},{"k":9,"t":8,"i":1.42},{"k":9,"t":11,"i":1.79},{"k":9,"t":14,"i":2.08},{"k":9,"t":17,"i":2.3},{"k":9,"t":20,"i":2.45},{"k":9,"t":20.4,"i":1.47},{"k":9,"t":21,"i":0.8},{"k":9,"t":21.8,"i":0.45},{"k":9,"t":23,"i":0.3},{"k":9,"t":27,"i":0.24},{"k":9,"t":33,"i":0.2},
{"k":10,"t":0,"i":-0.08},{"k":10,"t":1.5,"i":0.23},{"k":10,"t":3.5,"i":0.64},{"k":10,"t":5.5,"i":0.97},{"k":10,"t":8,"i":1.33},{"k":10,"t":11,"i":1.68},{"k":10,"t":14,"i":1.96},{"k":10,"t":17,"i":2.16},{"k":10,"t":20,"i":2.3},{"k":10,"t":20.4,"i":1.38},{"k":10,"t":21,"i":0.79},{"k":10,"t":21.8,"i":0.44},{"k":10,"t":23,"i":0.29},{"k":10,"t":27,"i":0.23},{"k":10,"t":33,"i":0.19},
{"k":11,"t":0,"i":-0.08},{"k":11,"t":1.5,"i":0.22},{"k":11,"t":3.5,"i":0.6},{"k":11,"t":5.5,"i":0.9},{"k":11,"t":8,"i":1.25},{"k":11,"t":11,"i":1.57},{"k":11,"t":14,"i":1.83},{"k":11,"t":17,"i":2.02},{"k":11,"t":20,"i":2.15},{"k":11,"t":20.4,"i":1.29},{"k":11,"t":21,"i":0.78},{"k":11,"t":21.8,"i":0.43},{"k":11,"t":23,"i":0.28},{"k":11,"t":27,"i":0.22},{"k":11,"t":33,"i":0.18},
{"k":12,"t":0,"i":-0.08},{"k":12,"t":1.5,"i":0.2},{"k":12,"t":3.5,"i":0.56},{"k":12,"t":5.5,"i":0.84},{"k":12,"t":8,"i":1.16},{"k":12,"t":11,"i":1.46},{"k":12,"t":14,"i":1.7},{"k":12,"t":17,"i":1.88},{"k":12,"t":20,"i":2.0},{"k":12,"t":20.4,"i":1.2},{"k":12,"t":21,"i":0.77},{"k":12,"t":21.8,"i":0.42},{"k":12,"t":23,"i":0.27},{"k":12,"t":27,"i":0.21},{"k":12,"t":33,"i":0.17},
{"k":13,"t":0,"i":-0.08},{"k":13,"t":1.5,"i":0.18},{"k":13,"t":3.5,"i":0.5},{"k":13,"t":5.5,"i":0.76},{"k":13,"t":8,"i":1.04},{"k":13,"t":11,"i":1.31},{"k":13,"t":14,"i":1.53},{"k":13,"t":17,"i":1.69},{"k":13,"t":20,"i":1.8},{"k":13,"t":20.4,"i":1.08},{"k":13,"t":21,"i":0.76},{"k":13,"t":21.8,"i":0.41},{"k":13,"t":23,"i":0.26},{"k":13,"t":27,"i":0.2},{"k":13,"t":33,"i":0.16},
{"k":14,"t":0,"i":-0.08},{"k":14,"t":1.5,"i":0.16},{"k":14,"t":3.5,"i":0.45},{"k":14,"t":5.5,"i":0.67},{"k":14,"t":8,"i":0.93},{"k":14,"t":11,"i":1.17},{"k":14,"t":14,"i":1.36},{"k":14,"t":17,"i":1.5},{"k":14,"t":20,"i":1.6},{"k":14,"t":20.4,"i":0.96},{"k":14,"t":21,"i":0.75},{"k":14,"t":21.8,"i":0.4},{"k":14,"t":23,"i":0.25},{"k":14,"t":27,"i":0.19},{"k":14,"t":33,"i":0.15}
],
"ed": [
{"s":"10Hz","t":0,"m":1.0,"u":1.0},{"s":"10Hz","t":0.1,"m":0.925,"u":0.99},{"s":"10Hz","t":0.2,"m":0.905,"u":0.985},{"s":"10Hz","t":0.3,"m":0.89,"u":0.975},{"s":"10Hz","t":0.4,"m":0.87,"u":0.965},{"s":"10Hz","t":0.5,"m":0.845,"u":0.955},{"s":"10Hz","t":0.6,"m":0.825,"u":0.945},{"s":"10Hz","t":0.7,"m":0.8,"u":0.935},{"s":"10Hz","t":0.8,"m":0.78,"u":0.925},{"s":"10Hz","t":0.9,"m":0.755,"u":0.915},{"s":"10Hz","t":1.0,"m":0.73,"u":0.905},{"s":"10Hz","t":1.1,"m":0.72,"u":0.89},{"s":"10Hz","t":1.2,"m":0.71,"u":0.875},{"s":"10Hz","t":1.3,"m":0.7,"u":0.865},{"s":"10Hz","t":1.4,"m":0.695,"u":0.855},{"s":"10Hz","t":1.5,"m":0.68,"u":0.84},{"s":"10Hz","t":1.6,"m":0.655,"u":0.83},{"s":"10Hz","t":1.7,"m":0.64,"u":0.82},{"s":"10Hz","t":1.8,"m":0.625,"u":0.81},{"s":"10Hz","t":1.9,"m":0.61,"u":0.8},{"s":"10Hz","t":2.0,"m":0.6,"u":0.79},{"s":"10Hz","t":2.1,"m":0.592,"u":0.78},{"s":"10Hz","t":2.2,"m":0.585,"u":0.775},{"s":"10Hz","t":2.3,"m":0.575,"u":0.77},{"s":"10Hz","t":2.4,"m":0.565,"u":0.76},{"s":"10Hz","t":2.5,"m":0.558,"u":0.755},{"s":"10Hz","t":2.6,"m":0.55,"u":0.75},{"s":"10Hz","t":2.7,"m":0.543,"u":0.74},{"s":"10Hz","t":2.8,"m":0.537,"u":0.73},{"s":"10Hz","t":2.9,"m":0.53,"u":0.72},{"s":"10Hz","t":3.0,"m":0.525,"u":0.705},{"s":"10Hz","t":3.1,"m":0.52,"u":0.7},{"s":"10Hz","t":3.2,"m":0.512,"u":0.69},{"s":"10Hz","t":3.3,"m":0.505,"u":0.685},{"s":"10Hz","t":3.4,"m":0.5,"u":0.68},{"s":"10Hz","t":3.5,"m":0.495,"u":0.675},{"s":"10Hz","t":3.6,"m":0.485,"u":0.67},{"s":"10Hz","t":3.7,"m":0.472,"u":0.663},{"s":"10Hz","t":3.8,"m":0.465,"u":0.66},{"s":"10Hz","t":3.9,"m":0.457,"u":0.65},{"s":"10Hz","t":4.0,"m":0.45,"u":0.645},{"s":"10Hz","t":4.1,"m":0.445,"u":0.64},{"s":"10Hz","t":4.2,"m":0.44,"u":0.632},{"s":"10Hz","t":4.3,"m":0.435,"u":0.625},{"s":"10Hz","t":4.4,"m":0.43,"u":0.62},{"s":"10Hz","t":4.5,"m":0.426,"u":0.612},{"s":"10Hz","t":4.6,"m":0.422,"u":0.61},{"s":"10Hz","t":4.7,"m":0.42,"u":0.605},{"s":"10Hz","t":4.8,"m":0.418,"u":0.6},{"s":"10Hz","t":4.9,"m":0.416,"u":0.597},{"s":"10Hz","t":5.0,"m":0.415,"u":0.593},{"s":"10Hz","t":5.1,"m":0.413,"u":0.59},{"s":"10Hz","t":5.2,"m":0.412,"u":0.588},{"s":"10Hz","t":5.3,"m":0.41,"u":0.586},{"s":"10Hz","t":5.4,"m":0.385,"u":0.585},
{"s":"5Hz","t":0,"m":1.0,"u":1.015},{"s":"5Hz","t":0.2,"m":0.955,"u":0.99},{"s":"5Hz","t":0.4,"m":0.935,"u":0.98},{"s":"5Hz","t":0.6,"m":0.912,"u":0.972},{"s":"5Hz","t":0.8,"m":0.895,"u":0.967},{"s":"5Hz","t":1.0,"m":0.88,"u":0.962},{"s":"5Hz","t":1.2,"m":0.855,"u":0.958},{"s":"5Hz","t":1.4,"m":0.85,"u":0.957},{"s":"5Hz","t":1.6,"m":0.83,"u":0.955},{"s":"5Hz","t":1.8,"m":0.815,"u":0.958},{"s":"5Hz","t":2.0,"m":0.795,"u":0.95},{"s":"5Hz","t":2.2,"m":0.785,"u":0.946},{"s":"5Hz","t":2.4,"m":0.777,"u":0.935},{"s":"5Hz","t":2.6,"m":0.77,"u":0.928},{"s":"5Hz","t":2.8,"m":0.762,"u":0.928},{"s":"5Hz","t":3.0,"m":0.748,"u":0.925},{"s":"5Hz","t":3.2,"m":0.735,"u":0.919},{"s":"5Hz","t":3.4,"m":0.73,"u":0.92},{"s":"5Hz","t":3.6,"m":0.72,"u":0.928},{"s":"5Hz","t":3.8,"m":0.714,"u":0.915},{"s":"5Hz","t":4.0,"m":0.71,"u":0.907},{"s":"5Hz","t":4.2,"m":0.705,"u":0.909},{"s":"5Hz","t":4.4,"m":0.69,"u":0.91},{"s":"5Hz","t":4.6,"m":0.682,"u":0.905},{"s":"5Hz","t":4.8,"m":0.678,"u":0.896},{"s":"5Hz","t":5.0,"m":0.672,"u":0.885},{"s":"5Hz","t":5.2,"m":0.665,"u":0.875},{"s":"5Hz","t":5.4,"m":0.658,"u":0.863},{"s":"5Hz","t":5.6,"m":0.652,"u":0.875},{"s":"5Hz","t":5.8,"m":0.648,"u":0.882},{"s":"5Hz","t":6.0,"m":0.66,"u":0.889},{"s":"5Hz","t":6.2,"m":0.662,"u":0.893},{"s":"5Hz","t":6.4,"m":0.655,"u":0.88},{"s":"5Hz","t":6.6,"m":0.648,"u":0.872},{"s":"5Hz","t":6.8,"m":0.64,"u":0.863},{"s":"5Hz","t":7.0,"m":0.622,"u":0.856},{"s":"5Hz","t":7.2,"m":0.632,"u":0.854},{"s":"5Hz","t":7.4,"m":0.645,"u":0.853},{"s":"5Hz","t":7.6,"m":0.64,"u":0.854},{"s":"5Hz","t":7.8,"m":0.63,"u":0.852},{"s":"5Hz","t":8.0,"m":0.628,"u":0.852},{"s":"5Hz","t":8.2,"m":0.62,"u":0.858},{"s":"5Hz","t":8.4,"m":0.618,"u":0.863},{"s":"5Hz","t":8.6,"m":0.612,"u":0.845},{"s":"5Hz","t":8.8,"m":0.61,"u":0.829},{"s":"5Hz","t":9.0,"m":0.608,"u":0.85},{"s":"5Hz","t":9.2,"m":0.61,"u":0.845},{"s":"5Hz","t":9.4,"m":0.602,"u":0.838},{"s":"5Hz","t":9.6,"m":0.6,"u":0.84},{"s":"5Hz","t":9.8,"m":0.6,"u":0.84},{"s":"5Hz","t":10.0,"m":0.598,"u":0.82},{"s":"5Hz","t":10.2,"m":0.605,"u":0.824},{"s":"5Hz","t":10.4,"m":0.595,"u":0.822},{"s":"5Hz","t":10.6,"m":0.592,"u":0.82},
{"s":"2Hz","t":0,"m":0.977,"u":0.999},{"s":"2Hz","t":0.5,"m":0.964,"u":0.988},{"s":"2Hz","t":1.0,"m":0.956,"u":0.993},{"s":"2Hz","t":1.5,"m":0.966,"u":0.977},{"s":"2Hz","t":2.0,"m":0.968,"u":0.98},{"s":"2Hz","t":2.5,"m":0.97,"u":0.985},{"s":"2Hz","t":3.0,"m":0.962,"u":0.981},{"s":"2Hz","t":3.5,"m":0.96,"u":0.991},{"s":"2Hz","t":4.0,"m":0.962,"u":0.987},{"s":"2Hz","t":4.5,"m":0.972,"u":1.013},{"s":"2Hz","t":5.0,"m":0.964,"u":0.996},{"s":"2Hz","t":5.5,"m":0.954,"u":0.989},{"s":"2Hz","t":6.0,"m":0.927,"u":0.977},{"s":"2Hz","t":6.5,"m":0.933,"u":0.978},{"s":"2Hz","t":7.0,"m":0.915,"u":0.956},{"s":"2Hz","t":7.5,"m":0.907,"u":0.953},{"s":"2Hz","t":8.0,"m":0.911,"u":0.959},{"s":"2Hz","t":8.5,"m":0.888,"u":0.937},{"s":"2Hz","t":9.0,"m":0.882,"u":0.937},{"s":"2Hz","t":9.5,"m":0.868,"u":0.918},{"s":"2Hz","t":10.0,"m":0.861,"u":0.92},{"s":"2Hz","t":10.5,"m":0.857,"u":0.937},{"s":"2Hz","t":11.0,"m":0.849,"u":0.916},{"s":"2Hz","t":11.5,"m":0.836,"u":0.923},{"s":"2Hz","t":12.0,"m":0.83,"u":0.927},{"s":"2Hz","t":12.5,"m":0.828,"u":0.931},{"s":"2Hz","t":13.0,"m":0.836,"u":0.919},{"s":"2Hz","t":13.5,"m":0.83,"u":0.916},{"s":"2Hz","t":14.0,"m":0.828,"u":0.932},{"s":"2Hz","t":14.5,"m":0.816,"u":0.948},{"s":"2Hz","t":15.0,"m":0.814,"u":0.922},{"s":"2Hz","t":15.5,"m":0.814,"u":0.94},{"s":"2Hz","t":16.0,"m":0.824,"u":0.935},{"s":"2Hz","t":16.5,"m":0.81,"u":0.928},{"s":"2Hz","t":17.0,"m":0.812,"u":0.927},{"s":"2Hz","t":17.5,"m":0.802,"u":0.918},{"s":"2Hz","t":18.0,"m":0.816,"u":0.915},{"s":"2Hz","t":18.5,"m":0.81,"u":0.927},{"s":"2Hz","t":19.0,"m":0.814,"u":0.926},{"s":"2Hz","t":19.5,"m":0.818,"u":0.924},{"s":"2Hz","t":20.0,"m":0.818,"u":0.937},{"s":"2Hz","t":20.5,"m":0.804,"u":0.943},{"s":"2Hz","t":21.0,"m":0.814,"u":0.93},{"s":"2Hz","t":21.5,"m":0.81,"u":0.957},{"s":"2Hz","t":22.0,"m":0.81,"u":0.919},{"s":"2Hz","t":22.5,"m":0.812,"u":0.94},{"s":"2Hz","t":23.0,"m":0.816,"u":0.949},{"s":"2Hz","t":23.5,"m":0.818,"u":0.974},{"s":"2Hz","t":24.0,"m":0.82,"u":0.959},{"s":"2Hz","t":24.5,"m":0.82,"u":0.981},{"s":"2Hz","t":25.0,"m":0.815,"u":0.93},{"s":"2Hz","t":25.5,"m":0.818,"u":0.975},{"s":"2Hz","t":26.0,"m":0.82,"u":0.981}
],
"bars": [
{"st":"2","v":0.814,"u":0.979,"sig":""},{"st":"5","v":0.592,"u":0.82,"sig":"*"},{"st":"10","v":0.385,"u":0.583,"sig":"*†"}
]
},
"spacing": 61,
"vconcat": [
{"hconcat": [
  {"width": 535, "height": 973,
   "title": {"text": "Control", "anchor": "middle", "frame": "group", "fontSize": 80, "fontWeight": "normal", "offset": -165, "dx": -20},
   "layer": [
    {"data": {"name": "ac"}, "mark": {"type": "line", "strokeWidth": 2.2, "color": "#000"},
     "encoding": {
      "x": {"field": "t", "type": "quantitative", "scale": {"domain": [0, 500], "nice": false}, "axis": {"values": [50,100,150,200,250,300,350,400,450,500], "labelExpr": "datum.value % 200 === 100 ? '' + datum.value : ''", "title": "Time (ms)", "tickSize": 14, "labelFontSize": 64, "titleFontSize": 74, "labelPadding": 14, "titlePadding": 14}},
      "y": {"field": "i", "type": "quantitative", "scale": {"domain": [-1, 5.5], "range": [973, 125], "nice": false}, "axis": {"values": [-1,-0.5,0,0.5,1,1.5,2,2.5,3,3.5,4,4.5,5], "labelExpr": "datum.value % 1 === 0 ? '' + datum.value : ''", "tickSize": 8, "labelFontSize": 64, "labelPadding": 12, "title": "Current (nA)", "titleFontSize": 74, "titlePadding": -12}},
      "detail": {"field": "k", "type": "nominal"}}},
    {"data": {"values": [{}]}, "mark": {"type": "text", "text": "A", "fontSize": 90, "fontWeight": "bold", "baseline": "alphabetic", "align": "center"},
     "encoding": {"x": {"datum": -108}, "y": {"datum": 5.81}}}
   ]},
  {"width": 535, "height": 973,
   "title": {"text": "ScTx", "anchor": "middle", "frame": "group", "fontSize": 80, "fontWeight": "normal", "offset": -168, "dx": -22},
   "data": {"name": "as"},
   "mark": {"type": "line", "strokeWidth": 2, "color": "#000"},
   "encoding": {
      "x": {"field": "t", "type": "quantitative", "scale": {"domain": [0, 500], "nice": false}, "axis": {"values": [50,100,150,200,250,300,350,400,450,500], "labelExpr": "datum.value % 200 === 100 ? '' + datum.value : ''", "title": "Time (ms)", "tickSize": 14, "labelFontSize": 64, "titleFontSize": 74, "labelPadding": 14, "titlePadding": 14}},
      "y": {"field": "i", "type": "quantitative", "scale": {"domain": [-1, 5.5], "range": [973, 125], "nice": false}, "axis": {"values": [-1,-0.5,0,0.5,1,1.5,2,2.5,3,3.5,4,4.5,5], "labelExpr": "datum.value % 1 === 0 ? '' + datum.value : ''", "tickSize": 8, "labelFontSize": 64, "labelPadding": 12, "title": null}},
      "detail": {"field": "k", "type": "nominal"}}},
  {"width": 535, "height": 973,
   "title": {"text": "ScTx-sens", "anchor": "middle", "frame": "group", "fontSize": 80, "fontWeight": "normal", "offset": -166, "dx": -12},
   "layer": [
    {"data": {"name": "ar"}, "mark": {"type": "line", "strokeWidth": 2, "color": "#e00000"},
     "encoding": {
      "x": {"field": "t", "type": "quantitative", "scale": {"domain": [0, 500], "nice": false}, "axis": {"values": [50,100,150,200,250,300,350,400,450,500], "labelExpr": "datum.value % 200 === 100 ? '' + datum.value : ''", "title": "Time (ms)", "tickSize": 14, "labelFontSize": 64, "titleFontSize": 74, "labelPadding": 14, "titlePadding": 14}},
      "y": {"field": "i", "type": "quantitative", "scale": {"domain": [-1, 5.5], "range": [973, 125], "nice": false}, "axis": {"values": [-1,-0.5,0,0.5,1,1.5,2,2.5,3,3.5,4,4.5,5], "labelExpr": "datum.value % 1 === 0 ? '' + datum.value : ''", "tickSize": 8, "labelFontSize": 64, "labelPadding": 12, "title": null}},
      "detail": {"field": "k", "type": "nominal"}}},
    {"data": {"values": [{}]}, "mark": {"type": "text", "text": "C", "fontSize": 52, "baseline": "middle", "align": "center"},
     "encoding": {"x": {"datum": 466}, "y": {"datum": 0.43}}},
    {"data": {"values": [{}]}, "mark": {"type": "rule", "strokeWidth": 3, "color": "#000"},
     "encoding": {"x": {"datum": 447}, "x2": {"datum": 488}, "y": {"datum": 0.14}}}
   ]},
  {"width": 86, "height": 10, "data": {"values": [{}]}, "mark": {"type": "point", "opacity": 0}},
  {"width": 712, "height": 973,
   "title": {"text": "B", "dx": -39, "offset": -103},
   "layer": [
    {"data": {"name": "bd"}, "mark": {"type": "point", "shape": "square", "filled": true, "size": 441, "color": "#c00000", "opacity": 1},
     "encoding": {
      "x": {"field": "t", "type": "quantitative", "scale": {"domain": [0, 150], "nice": false}, "axis": {"values": [0,12.5,25,37.5,50,62.5,75,87.5,100,112.5,125,137.5,150], "labelExpr": "datum.value % 50 === 0 ? '' + datum.value : ''", "title": "Time (sec)", "tickSize": 12, "labelFontSize": 64, "titleFontSize": 74, "labelPadding": 9, "titlePadding": 35}},
      "y": {"field": "i", "type": "quantitative", "scale": {"domain": [0, 2100], "range": [973, 103], "nice": false}, "axis": {"values": [0,200,400,600,800,1000,1200,1400,1600,1800,2000], "labelExpr": "datum.value % 400 === 0 ? '' + datum.value : ''", "tickSize": 12, "labelFontSize": 64, "labelPadding": 10, "title": "Current (pA) at +20 mV", "titleFontSize": 73, "titlePadding": 24}}}},
    {"data": {"values": [{}]}, "mark": {"type": "rule", "strokeWidth": 2.5, "color": "#000"},
     "encoding": {"x": {"datum": 7.7}, "y": {"datum": 2111}, "y2": {"datum": 1986}}},
    {"data": {"values": [{}]}, "mark": {"type": "point", "shape": "M-0.35,-1L0.35,-1L0,1Z", "filled": true, "size": 729, "color": "#000", "opacity": 1},
     "encoding": {"x": {"datum": 7.7}, "y": {"datum": 1986}}},
    {"data": {"values": [{}]}, "mark": {"type": "text", "text": "ScTx", "fontSize": 60, "align": "left", "baseline": "middle"},
     "encoding": {"x": {"datum": 12.3}, "y": {"datum": 2010}}},
    {"data": {"values": [{}]}, "mark": {"type": "text", "text": "TEA", "fontSize": 50, "align": "center", "baseline": "middle"},
     "encoding": {"x": {"datum": 115}, "y": {"datum": 278}}},
    {"data": {"values": [{}]}, "mark": {"type": "rule", "strokeWidth": 2.5, "color": "#000"},
     "encoding": {"x": {"datum": 111.7}, "x2": {"datum": 116.8}, "y": {"datum": 365}}}
   ]},
  {"width": 31, "height": 10, "data": {"values": [{}]}, "mark": {"type": "point", "opacity": 0}},
  {"width": 693, "height": 973,
   "title": {"text": "C", "dx": -156, "offset": -111},
   "data": {"name": "cd"},
   "layer": [
    {"mark": {"type": "rule", "color": "#d00000", "strokeWidth": 2.5},
     "encoding": {
      "x": {"field": "v", "type": "quantitative", "scale": {"domain": [-80, 30], "nice": false}, "axis": {"values": [-80,-70,-60,-50,-40,-30,-20,-10,0,10,20], "labelExpr": "datum.value % 20 === 0 ? '' + datum.value : ''", "title": "Mem. Pot. (mV)", "tickSize": 12, "labelFontSize": 64, "titleFontSize": 74, "labelPadding": 11, "titlePadding": 33}},
      "y": {"field": "lo", "type": "quantitative", "scale": {"domain": [0, 1.1], "range": [973, 99], "nice": false}, "axis": {"values": [0,0.1,0.2,0.3,0.4,0.5,0.6,0.7,0.8,0.9,1.0], "labelExpr": "round(datum.value*10) % 2 === 0 ? format(datum.value, '.1f') : ''", "tickSize": 12, "labelFontSize": 64, "labelPadding": 10, "title": "ScTx-sens. (normalized)", "titleFontSize": 75, "titlePadding": 20}},
      "y2": {"field": "hi"}}},
    {"mark": {"type": "tick", "orient": "horizontal", "color": "#d00000", "size": 16, "thickness": 2.5},
     "encoding": {"x": {"field": "v", "type": "quantitative"}, "y": {"field": "hi", "type": "quantitative"}}},
    {"transform": [{"filter": "datum.lo > 0"}],
     "mark": {"type": "tick", "orient": "horizontal", "color": "#d00000", "size": 16, "thickness": 2.5},
     "encoding": {"x": {"field": "v", "type": "quantitative"}, "y": {"field": "lo", "type": "quantitative"}}},
    {"mark": {"type": "line", "color": "#d00000", "strokeWidth": 2.5},
     "encoding": {"x": {"field": "v", "type": "quantitative"}, "y": {"field": "m", "type": "quantitative"}}},
    {"mark": {"type": "point", "shape": "square", "filled": true, "size": 500, "color": "#c00000", "opacity": 1},
     "encoding": {"x": {"field": "v", "type": "quantitative"}, "y": {"field": "m", "type": "quantitative"}}}
   ]}
 ], "spacing": 123, "bounds": "flush"},
{"hconcat": [
  {"width": 38, "height": 10, "data": {"values": [{}]}, "mark": {"type": "point", "opacity": 0}},
  {"width": 768, "height": 977,
   "title": {"text": "D", "dx": -25, "offset": -85},
   "layer": [
    {"data": {"name": "d2"}, "mark": {"type": "line", "interpolate": "monotone", "color": "#0000ff", "strokeWidth": 1.8},
     "encoding": {
      "x": {"field": "t", "type": "quantitative", "scale": {"domain": [-1, 33.5], "nice": false}, "axis": null},
      "y": {"field": "i", "type": "quantitative", "scale": {"domain": [-0.5, 4.5], "range": [977, 93], "nice": false}, "axis": {"values": [-0.5,0,0.5,1,1.5,2,2.5,3,3.5,4,4.5], "labelExpr": "datum.value % 1 === 0 ? '' + datum.value : ''", "tickSize": 13, "labelPadding": 34, "labelFontSize": 56, "title": "ScTx-sens current (nA)", "titleFontSize": 76, "titlePadding": 76}},
      "detail": {"field": "k", "type": "nominal"}}},
    {"data": {"values": [{}]}, "mark": {"type": "rule", "strokeWidth": 3.5, "color": "#000"},
     "encoding": {"x": {"datum": 0.3}, "x2": {"datum": 20.3}, "y": {"datum": -0.18}}},
    {"data": {"values": [{}]}, "mark": {"type": "text", "text": "2 Hz", "fontSize": 72, "align": "center", "baseline": "middle"},
     "encoding": {"x": {"datum": 10.6}, "y": {"datum": 0.36}}},
    {"data": {"values": [{}]}, "mark": {"type": "text", "text": "E", "fontSize": 56, "align": "center", "baseline": "middle"},
     "encoding": {"x": {"datum": 18.9}, "y": {"datum": 4.36}}},
    {"data": {"values": [{}]}, "mark": {"type": "rule", "strokeWidth": 3, "color": "#000"},
     "encoding": {"x": {"datum": 18.0}, "x2": {"datum": 19.9}, "y": {"datum": 4.19}}},
    {"data": {"values": [{}]}, "mark": {"type": "rule", "strokeWidth": 3, "color": "#000"},
     "encoding": {"x": {"datum": 24.3}, "y": {"datum": 4.05}, "y2": {"datum": 3.6}}},
    {"data": {"values": [{}]}, "mark": {"type": "point", "shape": "M-0.6,-1L0.6,-1L0,1Z", "filled": true, "size": 1764, "color": "#000", "opacity": 1},
     "encoding": {"x": {"datum": 24.3}, "y": {"datum": 3.6}}}
   ]},
  {"width": 768, "height": 977,
   "layer": [
    {"data": {"name": "d5"}, "mark": {"type": "line", "interpolate": "monotone", "color": "#cc0000", "strokeWidth": 1.8},
     "encoding": {
      "x": {"field": "t", "type": "quantitative", "scale": {"domain": [-1, 33.5], "nice": false}, "axis": null},
      "y": {"field": "i", "type": "quantitative", "scale": {"domain": [-0.5, 4.5], "range": [977, 93], "nice": false}, "axis": null},
      "detail": {"field": "k", "type": "nominal"}}},
    {"data": {"values": [{}]}, "mark": {"type": "rule", "strokeWidth": 3.5, "color": "#000"},
     "encoding": {"x": {"datum": 0.1}, "x2": {"datum": 20.1}, "y": {"datum": -0.18}}},
    {"data": {"values": [{}]}, "mark": {"type": "text", "text": "5 Hz", "fontSize": 72, "align": "center", "baseline": "middle"},
     "encoding": {"x": {"datum": 10.4}, "y": {"datum": 0.36}}},
    {"data": {"values": [{}]}, "mark": {"type": "text", "text": "20 msec", "fontSize": 70, "align": "center", "baseline": "middle"},
     "encoding": {"x": {"datum": 9.1}, "y": {"datum": -0.67}}},
    {"data": {"values": [{}]}, "mark": {"type": "text", "text": "E", "fontSize": 56, "align": "center", "baseline": "middle"},
     "encoding": {"x": {"datum": 18.7}, "y": {"datum": 4.04}}},
    {"data": {"values": [{}]}, "mark": {"type": "rule", "strokeWidth": 3, "color": "#000"},
     "encoding": {"x": {"datum": 17.9}, "x2": {"datum": 19.6}, "y": {"datum": 3.87}}},
    {"data": {"values": [{}]}, "mark": {"type": "rule", "strokeWidth": 3, "color": "#000"},
     "encoding": {"x": {"datum": 25.2}, "y": {"datum": 3.88}, "y2": {"datum": 2.83}}},
    {"data": {"values": [{}]}, "mark": {"type": "point", "shape": "M-0.6,-1L0.6,-1L0,1Z", "filled": true, "size": 1764, "color": "#000", "opacity": 1},
     "encoding": {"x": {"datum": 25.2}, "y": {"datum": 2.83}}}
   ]},
  {"width": 768, "height": 977,
   "layer": [
    {"data": {"name": "d10"}, "mark": {"type": "line", "interpolate": "monotone", "color": "#000", "strokeWidth": 1.6},
     "encoding": {
      "x": {"field": "t", "type": "quantitative", "scale": {"domain": [-1, 33.5], "nice": false}, "axis": null},
      "y": {"field": "i", "type": "quantitative", "scale": {"domain": [-0.5, 4.5], "range": [977, 93], "nice": false}, "axis": null},
      "detail": {"field": "k", "type": "nominal"}}},
    {"data": {"values": [{}]}, "mark": {"type": "rule", "strokeWidth": 3.5, "color": "#000"},
     "encoding": {"x": {"datum": 0.2}, "x2": {"datum": 20.3}, "y": {"datum": -0.18}}},
    {"data": {"values": [{}]}, "mark": {"type": "text", "text": "10 Hz", "fontSize": 72, "align": "center", "baseline": "middle"},
     "encoding": {"x": {"datum": 11.0}, "y": {"datum": 0.36}}},
    {"data": {"values": [{}]}, "mark": {"type": "text", "text": "E", "fontSize": 56, "align": "center", "baseline": "middle"},
     "encoding": {"x": {"datum": 19.6}, "y": {"datum": 3.93}}},
    {"data": {"values": [{}]}, "mark": {"type": "rule", "strokeWidth": 3, "color": "#000"},
     "encoding": {"x": {"datum": 18.8}, "x2": {"datum": 20.5}, "y": {"datum": 3.75}}},
    {"data": {"values": [{}]}, "mark": {"type": "rule", "strokeWidth": 3, "color": "#000"},
     "encoding": {"x": {"datum": 25.0}, "y": {"datum": 3.76}, "y2": {"datum": 1.77}}},
    {"data": {"values": [{}]}, "mark": {"type": "point", "shape": "M-0.6,-1L0.6,-1L0,1Z", "filled": true, "size": 1764, "color": "#000", "opacity": 1},
     "encoding": {"x": {"datum": 25.0}, "y": {"datum": 1.77}}}
   ]},
  {"width": 168, "height": 10, "data": {"values": [{}]}, "mark": {"type": "point", "opacity": 0}},
  {"width": 977, "height": 889,
   "title": {"text": "E", "dx": -109, "offset": -85},
   "layer": [
    {"data": {"name": "ed"},
     "layer": [
      {"mark": {"type": "rule", "strokeWidth": 2},
       "encoding": {
        "x": {"field": "t", "type": "quantitative", "scale": {"domain": [-2.5, 30], "nice": false}, "axis": {"values": [0,2.5,5,7.5,10,12.5,15,17.5,20,22.5,25,27.5,30], "labelExpr": "datum.value % 5 === 0 ? '' + datum.value : ''", "tickSize": 11, "labelFontSize": 60, "labelPadding": 18, "title": "Time (sec)", "titleFontSize": 74, "titlePadding": 6}},
        "y": {"field": "m", "type": "quantitative", "scale": {"domain": [0, 1.1], "nice": false}, "axis": {"values": [0,0.1,0.2,0.3,0.4,0.5,0.6,0.7,0.8,0.9,1.0], "labelExpr": "round(datum.value*10) % 2 === 0 ? format(datum.value, '.1f') : ''", "tickSize": 11, "labelFontSize": 60, "labelPadding": 12, "title": "Current normalized to 1.0", "titleFontSize": 75, "titlePadding": 40}},
        "y2": {"field": "u"},
        "color": {"field": "s", "type": "nominal", "scale": {"domain": ["2Hz", "5Hz", "10Hz"], "range": ["#0000ff", "#c00000", "#000000"]}, "legend": null}}},
      {"mark": {"type": "tick", "orient": "horizontal", "size": 18, "thickness": 2.2},
       "encoding": {"x": {"field": "t", "type": "quantitative"}, "y": {"field": "u", "type": "quantitative"}, "color": {"field": "s", "type": "nominal", "legend": null}}},
      {"mark": {"type": "point", "filled": true, "opacity": 1},
       "encoding": {"x": {"field": "t", "type": "quantitative"}, "y": {"field": "m", "type": "quantitative"},
        "color": {"field": "s", "type": "nominal", "legend": null},
        "shape": {"field": "s", "type": "nominal", "scale": {"domain": ["2Hz", "5Hz", "10Hz"], "range": ["triangle-up", "circle", "square"]}, "legend": null},
        "size": {"field": "s", "type": "nominal", "scale": {"domain": ["2Hz", "5Hz", "10Hz"], "range": [470, 370, 290]}, "legend": null}}},
      {"data": {"values": [{}]}, "mark": {"type": "text", "text": "2Hz", "fontSize": 66, "align": "center", "baseline": "middle"},
       "encoding": {"x": {"datum": 25.8}, "y": {"datum": 0.733}}},
      {"data": {"values": [{}]}, "mark": {"type": "text", "text": "5Hz", "fontSize": 66, "align": "center", "baseline": "middle"},
       "encoding": {"x": {"datum": 9.55}, "y": {"datum": 0.54}}},
      {"data": {"values": [{}]}, "mark": {"type": "text", "text": "10Hz", "fontSize": 66, "align": "center", "baseline": "middle"},
       "encoding": {"x": {"datum": 1.93}, "y": {"datum": 0.38}}}
     ]},
    {"data": {"name": "bars"},
     "layer": [
      {"mark": {"type": "bar"},
       "encoding": {
        "x": {"field": "st", "type": "nominal", "sort": ["2", "5", "10"], "scale": {"range": [685, 987], "paddingInner": 0.17, "paddingOuter": 0.17}, "axis": {"orient": "bottom", "offset": -107, "labels": false, "ticks": false, "domainWidth": 3, "title": "Stim. (Hz)", "titleFontSize": 57, "titlePadding": 30}},
        "y": {"field": "v", "type": "quantitative", "scale": {"domain": [0, 1], "range": [782, 330], "nice": false}, "axis": {"orient": "left", "offset": -685, "values": [0, 0.25, 0.5, 0.75, 1], "format": ".2f", "tickSize": 20, "tickWidth": 3, "domainWidth": 3, "labelFontSize": 47, "labelPadding": 4, "title": "Change from initial", "titleFontSize": 57, "titlePadding": 16}},
        "color": {"field": "st", "type": "nominal", "scale": {"domain": ["2", "5", "10"], "range": ["#0000ff", "#cc0000", "#000000"]}, "legend": null}}},
      {"mark": {"type": "rule", "strokeWidth": 3.5},
       "encoding": {"x": {"field": "st", "type": "nominal", "sort": ["2", "5", "10"]}, "y": {"field": "v", "type": "quantitative"}, "y2": {"field": "u"}, "color": {"field": "st", "type": "nominal", "legend": null}}},
      {"mark": {"type": "tick", "orient": "horizontal", "size": 38, "thickness": 3.5},
       "encoding": {"x": {"field": "st", "type": "nominal", "sort": ["2", "5", "10"]}, "y": {"field": "u", "type": "quantitative"}, "color": {"field": "st", "type": "nominal", "legend": null}}},
      {"mark": {"type": "text", "color": "white", "fontSize": 53, "baseline": "alphabetic", "align": "center"},
       "encoding": {"x": {"field": "st", "type": "nominal", "sort": ["2", "5", "10"]}, "y": {"datum": 0.025}, "text": {"field": "st"}}},
      {"transform": [{"filter": "datum.sig === '*'"}],
       "mark": {"type": "text", "fontSize": 72, "fontWeight": "bold", "baseline": "middle", "align": "center", "dy": -27},
       "encoding": {"x": {"field": "st", "type": "nominal", "sort": ["2", "5", "10"]}, "y": {"field": "u", "type": "quantitative"}, "text": {"field": "sig"}}},
      {"transform": [{"filter": "datum.sig === '*†'"}],
       "mark": {"type": "text", "fontSize": 72, "fontWeight": "bold", "baseline": "middle", "align": "center", "dy": -20},
       "encoding": {"x": {"field": "st", "type": "nominal", "sort": ["2", "5", "10"]}, "y": {"field": "u", "type": "quantitative"}, "text": {"field": "sig"}}}
     ]}
   ],
   "resolve": {"scale": {"x": "independent", "y": "independent", "color": "independent", "shape": "independent", "size": "independent"}, "axis": {"x": "independent", "y": "independent"}}}
 ], "spacing": 76, "bounds": "flush"}
]
}
